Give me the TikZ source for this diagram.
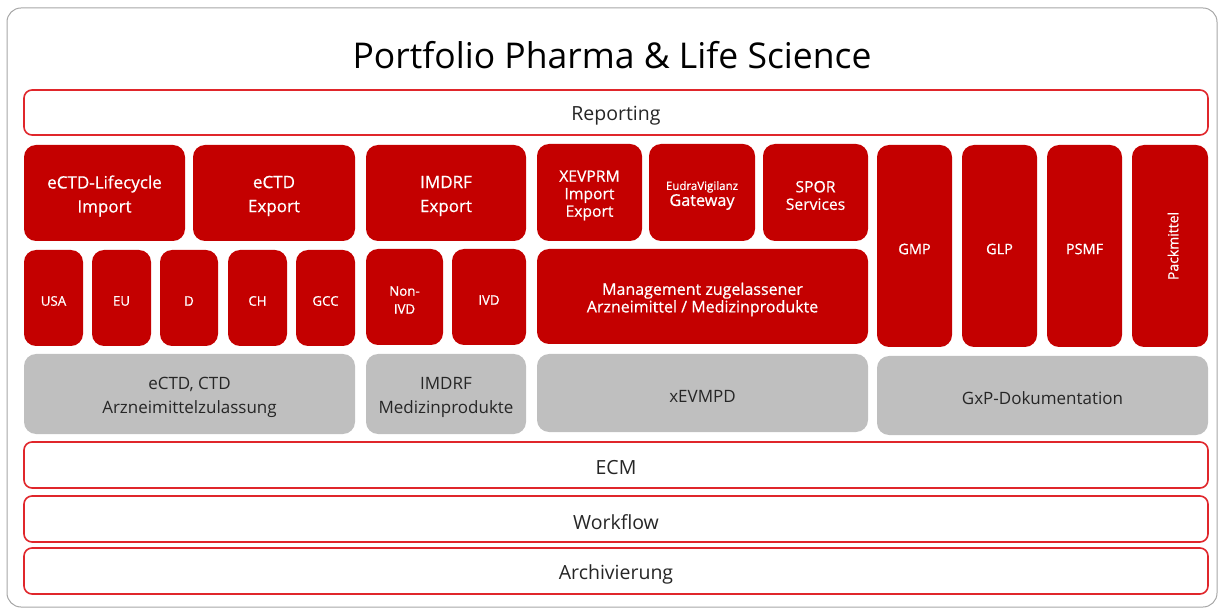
\documentclass[tikz,border=0pt]{standalone}
\usepackage{fontspec}
\setmainfont{Open Sans}
\newfontfamily\semib[FakeBold=0.6]{Open Sans}
\definecolor{pred}{HTML}{C40000}
\definecolor{pline}{HTML}{E0262B}
\definecolor{pgray}{HTML}{BFBFBF}
\definecolor{ptext}{HTML}{262626}
\definecolor{pframe}{HTML}{A6A6A6}
\newcommand\pfbox[8]{%
 \node[#2, minimum width=#5pt, minimum height=#6pt] (#1) at (#3,#4) {};
 \node[#7] (#1-t) at ([yshift=-3pt]#1.center) {#8};}
\begin{document}
\begin{tikzpicture}[x=1pt,y=-1pt,
 redbox/.style={fill=pred, draw=none, rounded corners=12pt, inner sep=0pt},
 graybox/.style={fill=pgray, draw=none, rounded corners=12pt, inner sep=0pt},
 barbox/.style={draw=pline, line width=1.6pt, fill=white, rounded corners=8pt, inner sep=0pt},
 wt/.style={text=white, align=center, inner sep=0pt},
 dt/.style={text=ptext, align=center, inner sep=0pt},
 bartxt/.style={dt, font=\fontsize{19.5}{22}\selectfont},
 bigtxt/.style={wt, font=\semib\fontsize{17}{24}\selectfont},
 midtxt/.style={wt, font=\semib\fontsize{15.7}{17.5}\selectfont},
 smalltxt/.style={wt, font=\semib\fontsize{13.3}{20}\selectfont},
 graytxt/.style={dt, font=\fontsize{17}{24}\selectfont},
 coltxt/.style={wt, font=\semib\fontsize{14.5}{16}\selectfont},
]
\useasboundingbox (0,0) rectangle (1218,609);
\draw[pframe, line width=1pt, rounded corners=14pt] (7,8) rectangle (1217,607);

\node[text=black, font=\fontsize{35.5}{40}\selectfont] (title) at (612,55) {Portfolio Pharma \& Life Science};

% bars
\pfbox{rep}{barbox}{616}{112.5}{1184}{45}{bartxt}{Reporting}
\pfbox{ecm}{barbox}{616}{465}{1184}{46}{bartxt}{ECM}
\pfbox{wf}{barbox}{616}{519}{1184}{46}{bartxt}{Workflow}
\pfbox{arch}{barbox}{616}{571}{1184}{46}{bartxt}{Archivierung}

% row 1
\pfbox{lc}{redbox}{104.5}{193}{161}{96}{bigtxt}{eCTD-Lifecycle\\Import}
\pfbox{ectdexp}{redbox}{274}{193}{162}{96}{bigtxt}{eCTD\\Export}
\pfbox{imdrfexp}{redbox}{446}{193}{160}{96}{bigtxt}{IMDRF\\Export}
\pfbox{xev}{redbox}{589.5}{192.5}{105}{97}{midtxt}{XEVPRM\\Import\\Export}
\pfbox{eudra}{redbox}{702}{192.5}{106}{97}{wt, font=\semib\fontsize{16.2}{16}\selectfont}{{\fontsize{11.5}{11.5}\selectfont EudraVigilanz}\\[0pt]Gateway}
\pfbox{spor}{redbox}{815.5}{192.5}{105}{97}{midtxt}{SPOR\\Services}

% row 2
\pfbox{usa}{redbox}{53.5}{298}{59}{96}{smalltxt}{USA}
\pfbox{eu}{redbox}{121.5}{298}{59}{96}{smalltxt}{EU}
\pfbox{d}{redbox}{189}{298}{58}{96}{smalltxt}{D}
\pfbox{ch}{redbox}{257.5}{298}{59}{96}{smalltxt}{CH}
\pfbox{gcc}{redbox}{325.5}{298}{59}{96}{smalltxt}{GCC}
\pfbox{nonivd}{redbox}{404.5}{297}{77}{96}{wt, font=\semib\fontsize{13.3}{18}\selectfont}{Non-\\IVD}
\pfbox{ivd}{redbox}{489}{297}{74}{96}{smalltxt}{IVD}
\pfbox{mgmt}{redbox}{702.5}{296.5}{331}{95}{wt, font=\semib\fontsize{16}{17.5}\selectfont}{Management zugelassener\\Arzneimittel / Medizinprodukte}

% GxP columns
\pfbox{gmp}{redbox}{914.5}{246}{75}{202}{coltxt}{GMP}
\pfbox{glp}{redbox}{999.5}{246}{75}{202}{coltxt}{GLP}
\pfbox{psmf}{redbox}{1084.5}{246}{75}{202}{coltxt}{PSMF}
\node[redbox, minimum width=76pt, minimum height=202pt] (pack) at (1170,246) {};
\node[wt, rotate=90, font=\semib\fontsize{14}{16}\selectfont] (pack-t) at ([xshift=3pt]pack.center) {Packmittel};

% gray row
\pfbox{ectd}{graybox}{189.5}{394}{331}{80}{graytxt}{eCTD, CTD\\Arzneimittelzulassung}
\pfbox{imdrf}{graybox}{446}{394}{160}{80}{graytxt}{IMDRF\\Medizinprodukte}
\pfbox{xevmpd}{graybox}{702.5}{393}{331}{78}{graytxt}{xEVMPD}
\pfbox{gxp}{graybox}{1042.5}{395.5}{331}{79}{graytxt}{GxP-Dokumentation}
\end{tikzpicture}
\end{document}
